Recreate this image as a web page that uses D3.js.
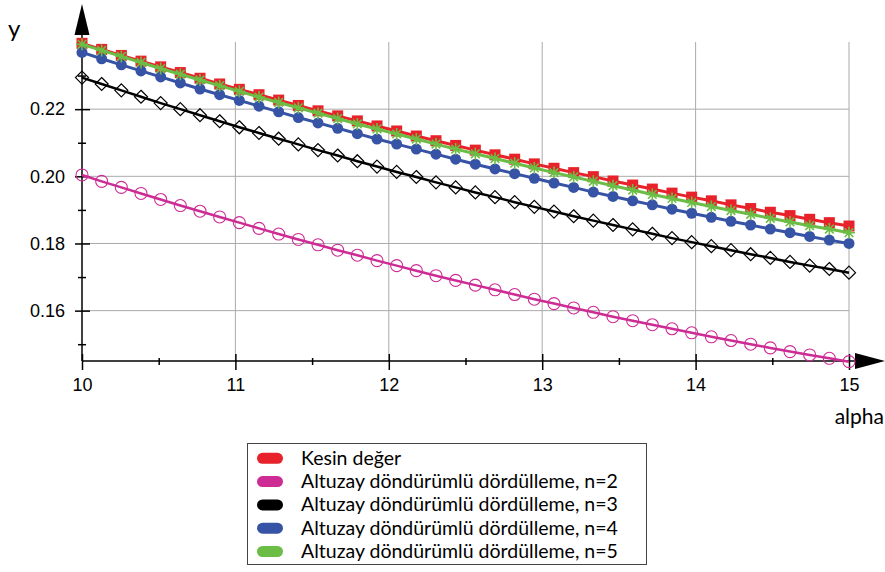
<!DOCTYPE html>
<html>
<head>
<meta charset="utf-8">
<script src="https://cdn.jsdelivr.net/npm/d3@7"></script>
<style>
  body { margin: 0; background: #fff; }
  svg { font-family: Lato, "Open Sans", sans-serif; }
</style>
</head>
<body>
<div id="chart"></div>
<script>
// alpha values (40 points from 10 to 15)
const alpha = [10, 10.1282, 10.2564, 10.3846, 10.5128, 10.6410, 10.7692, 10.8974, 11.0256, 11.1538,
  11.2821, 11.4103, 11.5385, 11.6667, 11.7949, 11.9231, 12.0513, 12.1795, 12.3077, 12.4359,
  12.5641, 12.6923, 12.8205, 12.9487, 13.0769, 13.2051, 13.3333, 13.4615, 13.5897, 13.7179,
  13.8462, 13.9744, 14.1026, 14.2308, 14.3590, 14.4872, 14.6154, 14.7436, 14.8718, 15];

const kesin = [0.2396, 0.2378, 0.2360, 0.2343, 0.2326, 0.2309, 0.2292, 0.2275, 0.2259, 0.2243,
  0.2227, 0.2211, 0.2195, 0.2180, 0.2165, 0.2150, 0.2135, 0.2120, 0.2106, 0.2092,
  0.2078, 0.2064, 0.2051, 0.2037, 0.2024, 0.2011, 0.1999, 0.1986, 0.1974, 0.1962,
  0.1950, 0.1938, 0.1927, 0.1915, 0.1904, 0.1893, 0.1883, 0.1872, 0.1862, 0.1852];

const n2 = [0.2004, 0.1985, 0.1967, 0.1949, 0.1931, 0.1913, 0.1896, 0.1879, 0.1862, 0.1845,
  0.1828, 0.1812, 0.1796, 0.1780, 0.1765, 0.1749, 0.1734, 0.1719, 0.1704, 0.1690,
  0.1676, 0.1662, 0.1648, 0.1634, 0.1621, 0.1608, 0.1595, 0.1582, 0.1570, 0.1558,
  0.1546, 0.1534, 0.1522, 0.1511, 0.1500, 0.1489, 0.1478, 0.1468, 0.1458, 0.1448];

const n3 = [0.2294, 0.2275, 0.2256, 0.2237, 0.2218, 0.2200, 0.2182, 0.2164, 0.2146, 0.2129,
  0.2112, 0.2095, 0.2078, 0.2062, 0.2045, 0.2029, 0.2013, 0.1998, 0.1982, 0.1967,
  0.1952, 0.1938, 0.1923, 0.1909, 0.1895, 0.1881, 0.1868, 0.1855, 0.1842, 0.1829,
  0.1816, 0.1804, 0.1792, 0.1780, 0.1768, 0.1757, 0.1745, 0.1734, 0.1724, 0.1713];

const n4 = [0.2369, 0.2350, 0.2332, 0.2314, 0.2296, 0.2278, 0.2260, 0.2243, 0.2226, 0.2209,
  0.2192, 0.2175, 0.2159, 0.2143, 0.2127, 0.2111, 0.2096, 0.2081, 0.2066, 0.2051,
  0.2036, 0.2022, 0.2008, 0.1994, 0.1980, 0.1967, 0.1953, 0.1940, 0.1927, 0.1915,
  0.1902, 0.1890, 0.1878, 0.1866, 0.1855, 0.1843, 0.1832, 0.1821, 0.1810, 0.1800];

const n5 = [0.2393, 0.2375, 0.2357, 0.2339, 0.2321, 0.2304, 0.2287, 0.2270, 0.2253, 0.2236,
  0.2220, 0.2204, 0.2188, 0.2172, 0.2156, 0.2141, 0.2126, 0.2111, 0.2096, 0.2081,
  0.2067, 0.2053, 0.2039, 0.2025, 0.2011, 0.1998, 0.1985, 0.1972, 0.1959, 0.1946,
  0.1934, 0.1922, 0.1910, 0.1898, 0.1887, 0.1875, 0.1864, 0.1853, 0.1843, 0.1832];

const xTicks = [10, 11, 12, 13, 14, 15];
const xMinor = [10.5, 11.5, 12.5, 13.5, 14.5];
const yTicks = [0.16, 0.18, 0.20, 0.22];
const yMinor = [0.15, 0.17, 0.19, 0.21, 0.23];

const seriesNames = ["Kesin değer",
  "Altuzay döndürümlü dördülleme, n=2",
  "Altuzay döndürümlü dördülleme, n=3",
  "Altuzay döndürümlü dördülleme, n=4",
  "Altuzay döndürümlü dördülleme, n=5"];
const seriesValues = [kesin, n2, n3, n4, n5];
const colors = ["#e8222a", "#cc2c94", "#000000", "#3653a5", "#6bbd45"];
const markers = ["square", "circle", "diamond", "dot", "star"];

const width = 885, height = 572;

const x = d3.scaleLinear().domain([10, 15]).range([82, 849]);
const y = d3.scaleLinear().domain([0.145, 0.24]).range([361, 42]);

const svg = d3.select("#chart").append("svg")
  .attr("width", width)
  .attr("height", height);

// grid
svg.append("g").selectAll("line")
  .data(xTicks.slice(1))
  .enter().append("line")
  .attr("x1", d => x(d)).attr("x2", d => x(d))
  .attr("y1", y(0.24)).attr("y2", y(0.145))
  .attr("stroke", "#aaa").attr("stroke-width", 1);

svg.append("g").selectAll("line")
  .data(yTicks)
  .enter().append("line")
  .attr("x1", x(10)).attr("x2", x(15))
  .attr("y1", d => y(d)).attr("y2", d => y(d))
  .attr("stroke", "#aaa").attr("stroke-width", 1);

// axes: ticks crossing the axis line
const x0 = y(0.145), y0 = x(10);

const gx = svg.append("g").attr("transform", `translate(0,${x0})`);
gx.call(d3.axisBottom(x).tickValues(xTicks).tickSize(9).tickPadding(8).tickFormat(d3.format("d")));
gx.call(g => g.selectAll("text").attr("font-size", "18px").attr("fill", "#000"));
svg.append("g").attr("transform", `translate(0,${x0})`)
  .call(d3.axisTop(x).tickValues(xTicks).tickSize(7).tickFormat(""));
svg.append("g").attr("transform", `translate(0,${x0})`)
  .call(d3.axisBottom(x).tickValues(xMinor).tickSize(4).tickFormat(""));
svg.append("g").attr("transform", `translate(0,${x0})`)
  .call(d3.axisTop(x).tickValues(xMinor).tickSize(3).tickFormat(""));

const gy = svg.append("g").attr("transform", `translate(${y0},0)`);
gy.call(d3.axisLeft(y).tickValues(yTicks).tickSize(7).tickPadding(10).tickFormat(d3.format(".2f")));
gy.call(g => g.selectAll("text").attr("font-size", "18px").attr("fill", "#000"));
svg.append("g").attr("transform", `translate(${y0},0)`)
  .call(d3.axisRight(y).tickValues(yTicks).tickSize(8).tickFormat(""));
svg.append("g").attr("transform", `translate(${y0},0)`)
  .call(d3.axisLeft(y).tickValues(yMinor).tickSize(4).tickFormat(""));
svg.append("g").attr("transform", `translate(${y0},0)`)
  .call(d3.axisRight(y).tickValues(yMinor).tickSize(4).tickFormat(""));

svg.selectAll(".domain").remove();
svg.selectAll(".tick line").attr("stroke", "#000").attr("stroke-width", 1.5);

// axis lines + arrows
svg.append("line").attr("x1", y0).attr("x2", 856).attr("y1", x0).attr("y2", x0)
  .attr("stroke", "#000").attr("stroke-width", 1.5);
svg.append("line").attr("x1", y0).attr("x2", y0).attr("y1", x0).attr("y2", 34)
  .attr("stroke", "#000").attr("stroke-width", 1.5);
svg.append("path").attr("d", `M${y0},4 L${y0 - 7.5},35 L${y0 + 7.5},35 Z`).attr("fill", "#000");
svg.append("path").attr("d", `M885,${x0} L855,${x0 - 8} L855,${x0 + 8} Z`).attr("fill", "#000");

svg.append("text").attr("x", 8).attr("y", 37).attr("font-size", "24px").attr("fill", "#000").text("y");
svg.append("text").attr("x", 884).attr("y", 424).attr("text-anchor", "end")
  .attr("font-size", "21px").attr("fill", "#000").text("alpha");

// series
const line = d3.line().x((d, i) => x(alpha[i])).y(d => y(d));

function drawMarker(g, type, color) {
  if (type === "square") {
    g.append("rect").attr("x", -5.5).attr("y", -5.5).attr("width", 11).attr("height", 11).attr("fill", color);
  } else if (type === "circle") {
    g.append("circle").attr("r", 6).attr("fill", "none").attr("stroke", color).attr("stroke-width", 1.1);
  } else if (type === "diamond") {
    g.append("path").attr("d", "M0,-6.5 L6.5,0 L0,6.5 L-6.5,0 Z").attr("fill", "none").attr("stroke", color).attr("stroke-width", 1.2);
  } else if (type === "dot") {
    g.append("circle").attr("r", 5.5).attr("fill", color);
  } else if (type === "star") {
    g.append("path").attr("d", "M-6,0 L6,0 M0,-6 L0,6 M-4.3,-4.3 L4.3,4.3 M-4.3,4.3 L4.3,-4.3")
      .attr("stroke", color).attr("stroke-width", 1.6).attr("fill", "none");
  }
}

seriesValues.forEach((vals, s) => {
  const g = svg.append("g");
  g.append("path").datum(vals)
    .attr("d", line)
    .attr("fill", "none")
    .attr("stroke", colors[s])
    .attr("stroke-width", s === 2 || s === 1 ? 2.5 : 3);
  g.selectAll(".m")
    .data(vals)
    .enter().append("g")
    .attr("transform", (d, i) => `translate(${x(alpha[i])},${y(d)})`)
    .each(function () { drawMarker(d3.select(this), markers[s], colors[s]); });
});

// legend
const legend = svg.append("g");
legend.append("rect").attr("x", 247.5).attr("y", 443.5).attr("width", 399).attr("height", 121)
  .attr("fill", "#fff").attr("stroke", "#444").attr("stroke-width", 1);
seriesNames.forEach((name, i) => {
  const cy = 458.3 + i * 23.3;
  legend.append("rect").attr("x", 257).attr("y", cy - 5.5).attr("width", 26).attr("height", 11)
    .attr("rx", 5.5).attr("fill", colors[i]);
  legend.append("text").attr("x", 301).attr("y", cy + 6.5)
    .attr("font-size", "19.5px").attr("fill", "#000").text(name);
});
</script>
</body>
</html>
